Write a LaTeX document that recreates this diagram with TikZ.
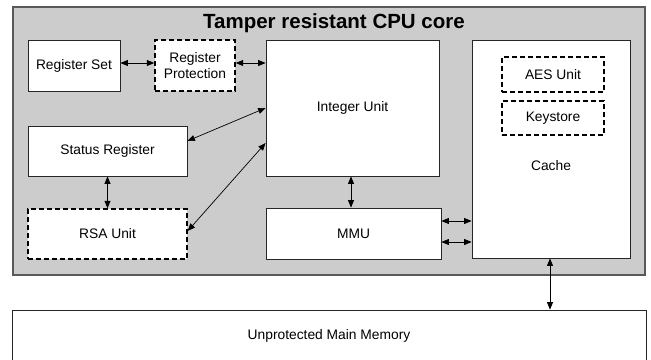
\documentclass[tikz,border=0pt]{standalone}
\usepackage{fontspec}
\setmainfont{Liberation Sans}
\usetikzlibrary{arrows.meta}
\begin{document}
\begin{tikzpicture}[x=1pt,y=-1pt,
  box/.style={draw=black!85, line width=0.8pt, fill=white, inner sep=0pt, font=\fontsize{13.8}{15.5}\selectfont, align=center},
  dbox/.style={box, draw=black, line width=1.4pt, dash pattern=on 5pt off 3pt},
  core/.style={draw=black!65, line width=1.6pt, fill=black!20, inner sep=0pt},
  lbl/.style={font=\fontsize{13.8}{15.5}\selectfont, inner sep=0pt},
  conn/.style={line width=0.7pt, {Triangle[length=7.5pt,width=6pt]}-{Triangle[length=7.5pt,width=6pt]}}
]
\useasboundingbox (0,0) rectangle (651,359);
\node[core, minimum width=632, minimum height=268] (core) at (329,141) {};
\node[font=\fontsize{20.5}{23}\selectfont\bfseries, inner sep=0pt, anchor=base] (title) at (334,28) {Tamper resistant CPU core};

\node[box, minimum width=92, minimum height=51] (rs) at (74,65.5) {Register Set};
\node[dbox, minimum width=80, minimum height=51] (rp) at (195,65.5) {Register\\Protection};
\node[box, minimum width=173, minimum height=136] (iu) at (352.5,108) {Integer Unit};
\node[box, minimum width=158, minimum height=218] (cache) at (551,149) {};
\node[lbl] (cachelbl) at (551,166) {Cache};
\node[dbox, minimum width=102, minimum height=35] (aes) at (553,74.5) {AES Unit};
\node[dbox, minimum width=102, minimum height=34] (ks) at (553,118) {Keystore};
\node[box, minimum width=159, minimum height=50] (sr) at (107.5,151) {Status Register};
\node[dbox, minimum width=159, minimum height=50] (rsa) at (107.5,234) {RSA Unit};
\node[box, minimum width=175, minimum height=51] (mmu) at (353.5,233.5) {MMU};
\node[box, minimum width=634, minimum height=52] (mem) at (329,336) {Unprotected Main Memory};

\draw[conn] ([yshift=2.5pt]rs.east) -- ([yshift=2.5pt]rp.west);
\draw[conn] ([yshift=2.5pt]rp.east) -- ([yshift=2.5pt]rp.east -| iu.west);
\draw[conn] ([yshift=10pt]sr.east) -- (iu.west);
\draw[conn] ([yshift=3pt]rsa.east) -- ([yshift=-35pt]iu.west);
\draw[conn] (sr.south) -- (rsa.north);
\draw[conn] ([xshift=-1.5pt]iu.south) -- ([xshift=-1.5pt]iu.south |- mmu.north);
\draw[conn] ([yshift=12.5pt]mmu.east) -- ([yshift=12.5pt]mmu.east -| cache.west);
\draw[conn] ([yshift=-8.5pt]mmu.east) -- ([yshift=-8.5pt]mmu.east -| cache.west);
\draw[conn] ([xshift=-1pt]cache.south) -- ([xshift=-1pt]cache.south |- mem.north);
\end{tikzpicture}
\end{document}
